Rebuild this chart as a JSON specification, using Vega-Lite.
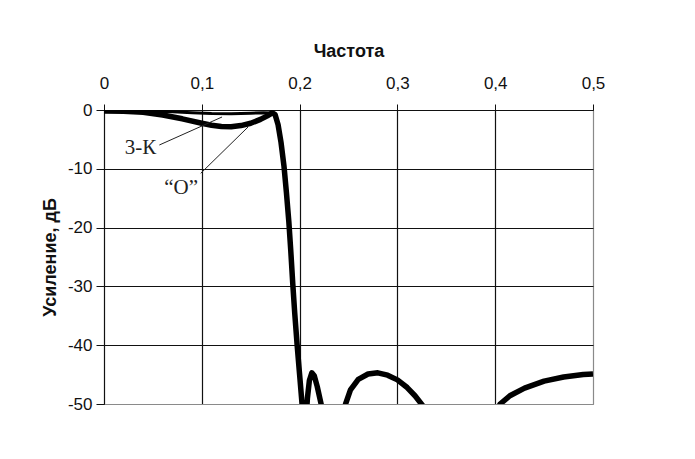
{
  "$schema": "https://vega.github.io/schema/vega-lite/v6.json",
  "autosize": "none",
  "width": 489,
  "height": 294,
  "padding": {"left": 104, "top": 110, "right": 102, "bottom": 55},
  "background": "white",
  "config": {
    "view": {"stroke": "#8a8a8a", "strokeWidth": 1},
    "axis": {
      "labelFont": "Liberation Sans",
      "labelFontSize": 17,
      "labelColor": "#111",
      "titleFont": "Liberation Sans",
      "titleFontSize": 18,
      "titleFontWeight": "bold",
      "titleColor": "#111",
      "domainColor": "#111",
      "tickColor": "#111",
      "gridOpacity": 1,
      "gridWidth": 1.2
    }
  },
  "datasets": {
    "curves": [
      {"series": "O", "f": 0, "g": -0.15},
      {"series": "O", "f": 0.02, "g": -0.2},
      {"series": "O", "f": 0.04, "g": -0.4},
      {"series": "O", "f": 0.06, "g": -0.85},
      {"series": "O", "f": 0.08, "g": -1.5},
      {"series": "O", "f": 0.1, "g": -2.25},
      {"series": "O", "f": 0.11, "g": -2.6},
      {"series": "O", "f": 0.12, "g": -2.8},
      {"series": "O", "f": 0.13, "g": -2.85},
      {"series": "O", "f": 0.14, "g": -2.65},
      {"series": "O", "f": 0.15, "g": -2.25},
      {"series": "O", "f": 0.16, "g": -1.6},
      {"series": "O", "f": 0.167, "g": -1.0},
      {"series": "O", "f": 0.172, "g": -0.5},
      {"series": "O", "f": 0.175, "g": -0.8},
      {"series": "O", "f": 0.178, "g": -2.5},
      {"series": "O", "f": 0.181, "g": -5.5},
      {"series": "O", "f": 0.184, "g": -9.5},
      {"series": "O", "f": 0.1865, "g": -14},
      {"series": "O", "f": 0.189, "g": -19},
      {"series": "O", "f": 0.191, "g": -24},
      {"series": "O", "f": 0.193, "g": -29.5},
      {"series": "O", "f": 0.195, "g": -34.5},
      {"series": "O", "f": 0.1975, "g": -40},
      {"series": "O", "f": 0.2, "g": -45},
      {"series": "O", "f": 0.2025, "g": -50},
      {"series": "O", "f": 0.205, "g": -55},
      {"series": "O", "f": 0.2065, "g": -53},
      {"series": "O", "f": 0.208, "g": -49},
      {"series": "O", "f": 0.21, "g": -46},
      {"series": "O", "f": 0.2125, "g": -44.7},
      {"series": "O", "f": 0.215, "g": -45.2},
      {"series": "O", "f": 0.218, "g": -47},
      {"series": "O", "f": 0.222, "g": -50},
      {"series": "O", "f": 0.228, "g": -56},
      {"series": "O", "f": 0.235, "g": -62},
      {"series": "O", "f": 0.241, "g": -56},
      {"series": "O", "f": 0.247, "g": -50},
      {"series": "O", "f": 0.252, "g": -47.6},
      {"series": "O", "f": 0.26, "g": -45.8},
      {"series": "O", "f": 0.27, "g": -44.9},
      {"series": "O", "f": 0.28, "g": -44.7},
      {"series": "O", "f": 0.29, "g": -45.1},
      {"series": "O", "f": 0.3, "g": -45.9},
      {"series": "O", "f": 0.31, "g": -47.2},
      {"series": "O", "f": 0.318, "g": -48.6},
      {"series": "O", "f": 0.326, "g": -50.3},
      {"series": "O", "f": 0.34, "g": -55},
      {"series": "O", "f": 0.36, "g": -65},
      {"series": "O", "f": 0.38, "g": -60},
      {"series": "O", "f": 0.395, "g": -53},
      {"series": "O", "f": 0.405, "g": -50},
      {"series": "O", "f": 0.415, "g": -48.6},
      {"series": "O", "f": 0.43, "g": -47.3},
      {"series": "O", "f": 0.45, "g": -46.1},
      {"series": "O", "f": 0.47, "g": -45.4},
      {"series": "O", "f": 0.49, "g": -45},
      {"series": "O", "f": 0.5, "g": -44.9},
      {"series": "3-К", "f": 0, "g": -0.15},
      {"series": "3-К", "f": 0.03, "g": -0.15},
      {"series": "3-К", "f": 0.05, "g": -0.2},
      {"series": "3-К", "f": 0.07, "g": -0.3},
      {"series": "3-К", "f": 0.09, "g": -0.45},
      {"series": "3-К", "f": 0.11, "g": -0.6},
      {"series": "3-К", "f": 0.13, "g": -0.65},
      {"series": "3-К", "f": 0.15, "g": -0.55},
      {"series": "3-К", "f": 0.163, "g": -0.45},
      {"series": "3-К", "f": 0.172, "g": -0.5}
    ],
    "labels": [
      {"label": "3-К", "f": 0.0373, "g": -6.5},
      {"label": "“O”", "f": 0.0788, "g": -13.2}
    ],
    "leaders": [
      {"f": 0.0566, "g": -5.95, "f2": 0.1207, "g2": -1.19},
      {"f": 0.0989, "g": -10.77, "f2": 0.1473, "g2": -2.89}
    ]
  },
  "encoding": {
    "x": {
      "field": "f",
      "type": "quantitative",
      "scale": {"domain": [0, 0.5], "nice": false, "zero": false},
      "axis": {
        "orient": "top",
        "title": "Частота",
        "values": [0, 0.1, 0.2, 0.3, 0.4, 0.5],
        "labelExpr": "replace(format(datum.value, '.1~f'), '.', ',')",
        "grid": true,
        "gridColor": {"condition": {"test": "datum.value >= 0.5", "value": "#8a8a8a"}, "value": "#111"},
        "tickSize": 6,
        "labelPadding": 12,
        "titlePadding": 14,
        "labelFlush": false
      }
    },
    "y": {
      "field": "g",
      "type": "quantitative",
      "scale": {"domain": [-50, 0], "nice": false, "zero": false},
      "axis": {
        "title": "Усиление, дБ",
        "values": [0, -10, -20, -30, -40, -50],
        "labelExpr": "'' + datum.value",
        "grid": true,
        "gridColor": {"condition": {"test": "datum.value <= -50", "value": "#8a8a8a"}, "value": "#111"},
        "tickSize": 8,
        "labelPadding": 4,
        "titlePadding": 8,
        "labelFlush": false
      }
    }
  },
  "layer": [
    {
      "data": {"name": "curves"},
      "transform": [{"filter": "datum.series == 'O'"}],
      "mark": {"type": "line", "color": "#000", "strokeWidth": 5.5, "clip": true, "strokeJoin": "round"},
      "encoding": {}
    },
    {
      "data": {"name": "curves"},
      "transform": [{"filter": "datum.series != 'O'"}],
      "mark": {"type": "line", "color": "#000", "strokeWidth": 3, "clip": true},
      "encoding": {}
    },
    {
      "data": {"name": "leaders"},
      "mark": {"type": "rule", "color": "#222", "strokeWidth": 1},
      "encoding": {
        "x2": {"field": "f2"},
        "y2": {"field": "g2"}
      }
    },
    {
      "data": {"name": "labels"},
      "mark": {"type": "text", "font": "Liberation Serif", "fontSize": 21, "color": "#222", "align": "center", "baseline": "middle"},
      "encoding": {
        "text": {"field": "label"}
      }
    }
  ]
}
